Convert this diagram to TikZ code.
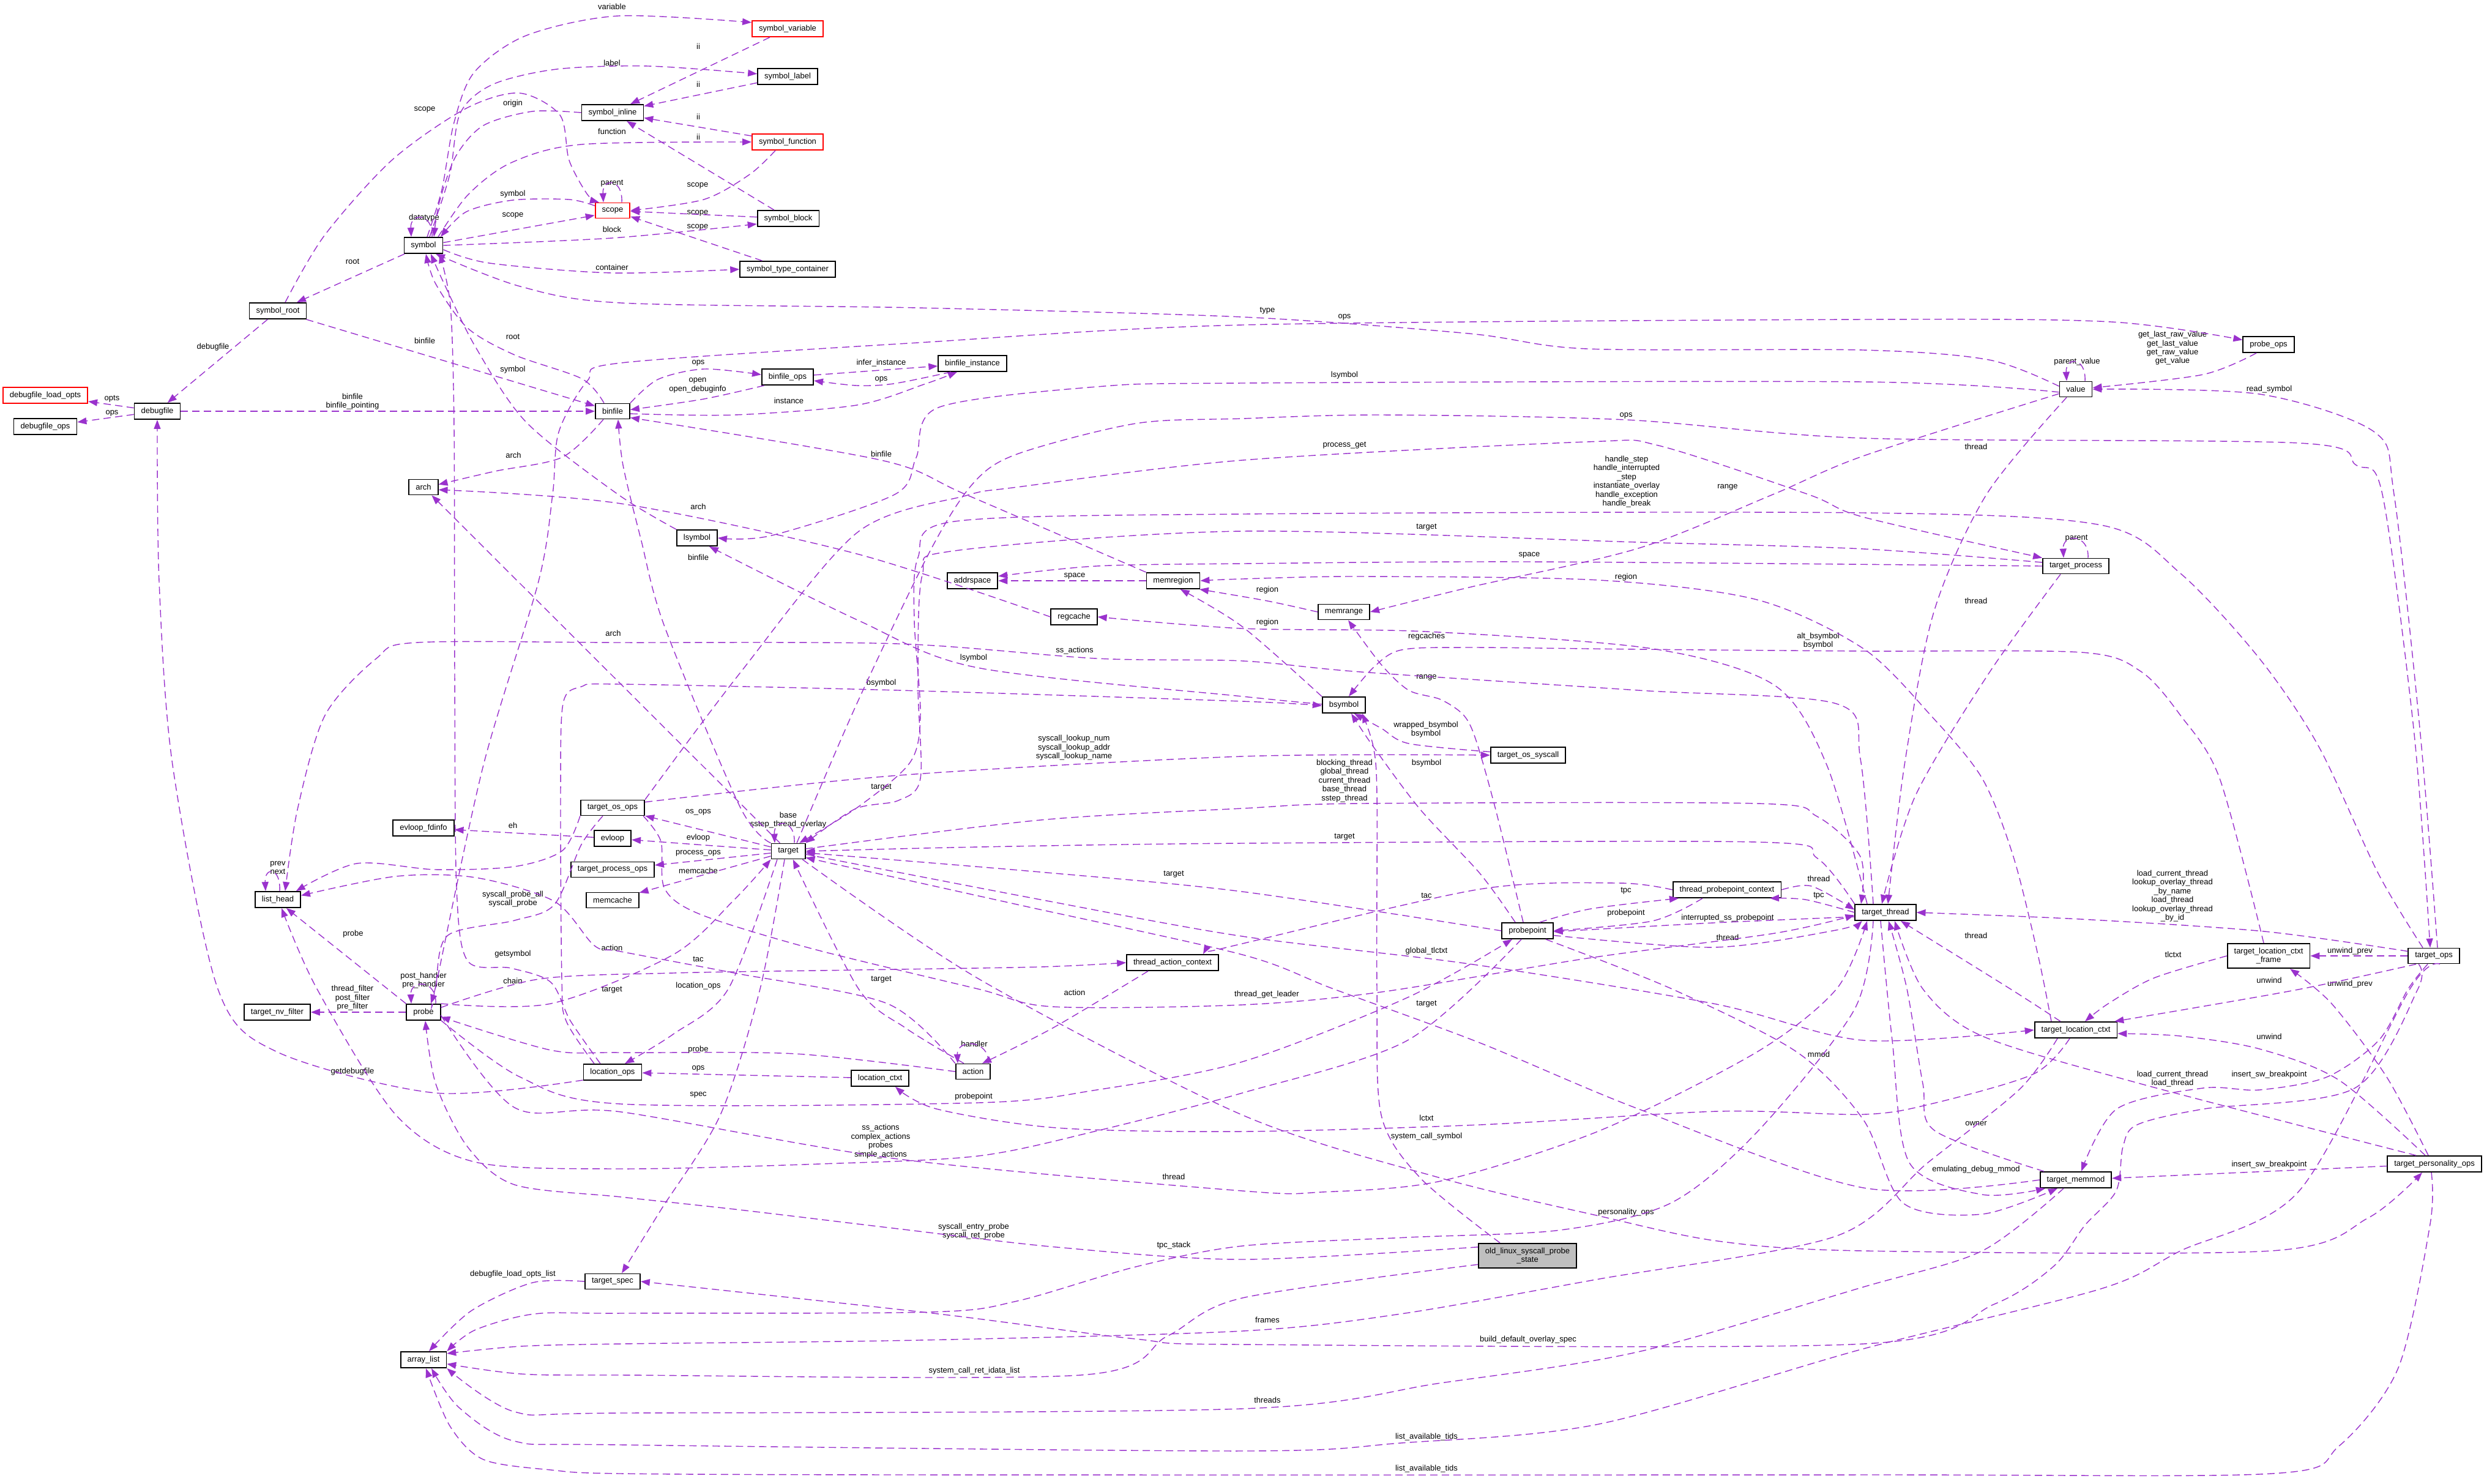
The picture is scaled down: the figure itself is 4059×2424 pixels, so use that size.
\documentclass[tikz,border=0pt]{standalone}
\usepackage{fontspec}
\setmainfont{Liberation Sans}
\usepackage{xcolor}
\usepackage{tikz}
\usetikzlibrary{arrows.meta}
\definecolor{edgepurple}{RGB}{154,50,205}
\definecolor{boxred}{RGB}{255,0,0}
\definecolor{rootgray}{RGB}{191,191,191}
\tikzset{
  cls/.style={draw=black, line width=0.5pt, fill=white, inner xsep=1.1mm, inner ysep=0.7mm,
    minimum height=2.5mm, align=center, font=\fontsize{3.7}{4.1}\selectfont},
  clsred/.style={cls, draw=boxred},
  clsroot/.style={cls, fill=rootgray},
  dep/.style={draw=edgepurple, line width=0.4pt, dash pattern=on 1.2mm off 0.7mm,
    -{Triangle[length=1.5mm,width=1.1mm]}},
  lbl/.style={inner sep=0pt, align=center, font=\fontsize{3.7}{4.1}\selectfont},
}

\begin{document}
\begin{tikzpicture}[x=0.1mm, y=-0.1mm]
  \useasboundingbox (0,0) rectangle (4059,2424);

  % Classes
  \node[cls] (symbol) at (692,401) {symbol};
  \node[cls] (symroot) at (454,508) {symbol\_root};
  \node[cls] (debugfile) at (257,672) {debugfile};
  \node[clsred] (dlopts) at (74,646) {debugfile\_load\_opts};
  \node[cls] (dfops) at (74,697) {debugfile\_ops};
  \node[cls] (binfile) at (1001,672) {binfile};
  \node[clsred] (scope) at (1001,344) {scope};
  \node[cls] (syminline) at (1001,184) {symbol\_inline};
  \node[cls] (arch) at (692,796) {arch};
  \node[clsred] (symvar) at (1287,47) {symbol\_variable};
  \node[cls] (symlabel) at (1287,125) {symbol\_label};
  \node[clsred] (symfunc) at (1287,232) {symbol\_function};
  \node[cls] (symblock) at (1288,357) {symbol\_block};
  \node[cls] (symtc) at (1287,440) {symbol\_type\_container};
  \node[cls] (bfops) at (1287,616) {binfile\_ops};
  \node[cls] (bfinst) at (1589,594) {binfile\_instance};
  \node[cls] (probeops) at (3707,563) {probe\_ops};
  \node[cls] (value) at (3392,636) {value};
  \node[cls] (lsymbol) at (1139,879) {lsymbol};
  \node[cls] (addrspace) at (1589,949) {addrspace};
  \node[cls] (memregion) at (1917,949) {memregion};
  \node[cls] (regcache) at (1755,1008) {regcache};
  \node[cls] (memrange) at (2196,1000) {memrange};
  \node[cls] (bsymbol) at (2196,1152) {bsymbol};
  \node[cls] (tossys) at (2497,1234) {target\_os\_syscall};
  \node[cls] (tprocess) at (3392,925) {target\_process};
  \node[cls] (target) at (1288,1391) {target};
  \node[cls] (tosops) at (1001,1320) {target\_os\_ops};
  \node[cls] (evloop) at (1001,1370) {evloop};
  \node[cls] (tpops) at (1001,1421) {target\_process\_ops};
  \node[cls] (memcache) at (1001,1471) {memcache};
  \node[cls] (evfd) at (692,1353) {evloop\_fdinfo};
  \node[cls] (listhead) at (454,1470) {list\_head};
  \node[cls] (tac) at (1916,1573) {thread\_action\_context};
  \node[cls] (tpc) at (2822,1454) {thread\_probepoint\_context};
  \node[cls] (probepoint) at (2496,1521) {probepoint};
  \node[cls] (tthread) at (3081,1491) {target\_thread};
  \node[cls] (tlcf) at (3707,1562) {target\_location\_ctxt\\\_frame};
  \node[cls] (tops) at (3977,1562) {target\_ops};
  \node[cls] (tlc) at (3392,1683) {target\_location\_ctxt};
  \node[cls] (tmemmod) at (3392,1928) {target\_memmod};
  \node[cls] (tpers) at (3978,1902) {target\_personality\_ops};
  \node[clsroot] (olsps) at (2496,2052) {old\_linux\_syscall\_probe\\\_state};
  \node[cls] (tnvf) at (453,1654) {target\_nv\_filter};
  \node[cls] (probe) at (692,1654) {probe};
  \node[cls] (locops) at (1001,1752) {location\_ops};
  \node[cls] (action) at (1590,1751) {action};
  \node[cls] (locctxt) at (1438,1762) {location\_ctxt};
  \node[cls] (tspec) at (1001,2094) {target\_spec};
  \node[cls] (alist) at (692,2222) {array\_list};

  % Member labels
  \node[lbl] (l01) at (1000,11) {variable};
  \node[lbl] (l02) at (1000,103) {label};
  \node[lbl] (l03) at (694,179) {scope};
  \node[lbl] (l04) at (838,169) {origin};
  \node[lbl] (l05) at (1000,215) {function};
  \node[lbl] (l06) at (1000,300) {parent};
  \node[lbl] (l07) at (838,317) {symbol};
  \node[lbl] (l08) at (838,352) {scope};
  \node[lbl] (l09) at (693,356) {datatype};
  \node[lbl] (l10) at (1000,375) {block};
  \node[lbl] (l11) at (576,427) {root};
  \node[lbl] (l12) at (1000,437) {container};
  \node[lbl] (l13) at (838,550) {root};
  \node[lbl] (l14) at (694,557) {binfile};
  \node[lbl] (l15) at (838,604) {symbol};
  \node[lbl] (l16) at (348,567) {debugfile};
  \node[lbl] (l17) at (183,652) {opts};
  \node[lbl] (l18) at (183,675) {ops};
  \node[lbl] (l19) at (576,656) {binfile\\binfile\_pointing};
  \node[lbl] (l20) at (839,744) {arch};
  \node[lbl] (l21) at (1141,76) {ii};
  \node[lbl] (l22) at (1141,138) {ii};
  \node[lbl] (l23) at (1141,191) {ii};
  \node[lbl] (l24) at (1141,224) {ii};
  \node[lbl] (l25) at (1140,303) {scope};
  \node[lbl] (l26) at (1140,348) {scope};
  \node[lbl] (l27) at (1140,371) {scope};
  \node[lbl] (l28) at (1141,593) {ops};
  \node[lbl] (l29) at (1140,630) {open\\open\_debuginfo};
  \node[lbl] (l30) at (1289,655) {instance};
  \node[lbl] (l31) at (1440,593) {infer\_instance};
  \node[lbl] (l32) at (1440,620) {ops};
  \node[lbl] (l33) at (1440,742) {binfile};
  \node[lbl] (l34) at (2071,508) {type};
  \node[lbl] (l35) at (2197,518) {ops};
  \node[lbl] (l36) at (2197,613) {lsymbol};
  \node[lbl] (l37) at (2657,679) {ops};
  \node[lbl] (l38) at (2197,728) {process\_get};
  \node[lbl] (l39) at (2658,787) {handle\_step\\handle\_interrupted\\\_step\\instantiate\_overlay\\handle\_exception\\handle\_break};
  \node[lbl] (l40) at (2823,796) {range};
  \node[lbl] (l41) at (3550,569) {get\_last\_raw\_value\\get\_last\_value\\get\_raw\_value\\get\_value};
  \node[lbl] (l42) at (3394,591) {parent\_value};
  \node[lbl] (l43) at (3708,636) {read\_symbol};
  \node[lbl] (l44) at (3229,730) {thread};
  \node[lbl] (l45) at (1002,1035) {arch};
  \node[lbl] (l46) at (838,1349) {eh};
  \node[lbl] (l47) at (454,1418) {prev\\next};
  \node[lbl] (l48) at (838,1469) {syscall\_probe\_all\\syscall\_probe};
  \node[lbl] (l49) at (577,1526) {probe};
  \node[lbl] (l50) at (838,1559) {getsymbol};
  \node[lbl] (l51) at (1000,1549) {action};
  \node[lbl] (l52) at (692,1602) {post\_handler\\pre\_handler};
  \node[lbl] (l53) at (838,1603) {chain};
  \node[lbl] (l54) at (1000,1618) {target};
  \node[lbl] (l55) at (576,1631) {thread\_filter\\post\_filter\\pre\_filter};
  \node[lbl] (l56) at (576,1751) {getdebugfile};
  \node[lbl] (l57) at (838,2082) {debugfile\_load\_opts\_list};
  \node[lbl] (l58) at (1141,828) {arch};
  \node[lbl] (l59) at (1141,911) {binfile};
  \node[lbl] (l60) at (1756,941) {space};
  \node[lbl] (l61) at (1756,1063) {ss\_actions};
  \node[lbl] (l62) at (1591,1075) {lsymbol};
  \node[lbl] (l63) at (1440,1116) {bsymbol};
  \node[lbl] (l64) at (1755,1222) {syscall\_lookup\_num\\syscall\_lookup\_addr\\syscall\_lookup\_name};
  \node[lbl] (l65) at (1440,1287) {target};
  \node[lbl] (l66) at (1141,1327) {os\_ops};
  \node[lbl] (l67) at (1288,1340) {base\\sstep\_thread\_overlay};
  \node[lbl] (l68) at (1141,1369) {evloop};
  \node[lbl] (l69) at (1141,1394) {process\_ops};
  \node[lbl] (l70) at (1141,1423) {memcache};
  \node[lbl] (l71) at (1918,1429) {target};
  \node[lbl] (l72) at (1141,1567) {tac};
  \node[lbl] (l73) at (1440,1601) {target};
  \node[lbl] (l74) at (1141,1611) {location\_ops};
  \node[lbl] (l75) at (2331,862) {target};
  \node[lbl] (l76) at (2499,907) {space};
  \node[lbl] (l77) at (2657,943) {region};
  \node[lbl] (l78) at (2071,964) {region};
  \node[lbl] (l79) at (2071,1017) {region};
  \node[lbl] (l80) at (2331,1040) {regcaches};
  \node[lbl] (l81) at (2971,1047) {alt\_bsymbol\\bsymbol};
  \node[lbl] (l82) at (2331,1107) {range};
  \node[lbl] (l83) at (2330,1192) {wrapped\_bsymbol\\bsymbol};
  \node[lbl] (l84) at (2331,1247) {bsymbol};
  \node[lbl] (l85) at (2197,1276) {blocking\_thread\\global\_thread\\current\_thread\\base\_thread\\sstep\_thread};
  \node[lbl] (l86) at (2197,1368) {target};
  \node[lbl] (l87) at (2972,1436) {thread};
  \node[lbl] (l88) at (2657,1456) {tpc};
  \node[lbl] (l89) at (2972,1464) {tpc};
  \node[lbl] (l90) at (2331,1463) {tac};
  \node[lbl] (l91) at (2657,1492) {probepoint};
  \node[lbl] (l92) at (2823,1500) {interrupted\_ss\_probepoint};
  \node[lbl] (l93) at (2823,1532) {thread};
  \node[lbl] (l94) at (2331,1554) {global\_tlctxt};
  \node[lbl] (l95) at (3393,880) {parent};
  \node[lbl] (l96) at (3229,982) {thread};
  \node[lbl] (l97) at (3550,1464) {load\_current\_thread\\lookup\_overlay\_thread\\\_by\_name\\load\_thread\\lookup\_overlay\_thread\\\_by\_id};
  \node[lbl] (l98) at (3229,1529) {thread};
  \node[lbl] (l99) at (3840,1554) {unwind\_prev};
  \node[lbl] (l100) at (3551,1560) {tlctxt};
  \node[lbl] (l101) at (3708,1602) {unwind};
  \node[lbl] (l102) at (3840,1608) {unwind\_prev};
  \node[lbl] (l103) at (1756,1622) {action};
  \node[lbl] (l104) at (1592,1706) {handler};
  \node[lbl] (l105) at (1141,1715) {probe};
  \node[lbl] (l106) at (1141,1746) {ops};
  \node[lbl] (l107) at (1141,1789) {spec};
  \node[lbl] (l108) at (1591,1792) {probepoint};
  \node[lbl] (l109) at (1439,1865) {ss\_actions\\complex\_actions\\probes\\simple\_actions};
  \node[lbl] (l110) at (1918,1923) {thread};
  \node[lbl] (l111) at (1591,2012) {syscall\_entry\_probe\\syscall\_ret\_probe};
  \node[lbl] (l112) at (1918,2035) {tpc\_stack};
  \node[lbl] (l113) at (1592,2240) {system\_call\_ret\_idata\_list};
  \node[lbl] (l114) at (2070,1625) {thread\_get\_leader};
  \node[lbl] (l115) at (2331,1641) {target};
  \node[lbl] (l116) at (2972,1723) {mmod};
  \node[lbl] (l117) at (2331,1827) {lctxt};
  \node[lbl] (l118) at (2331,1857) {system\_call\_symbol};
  \node[lbl] (l119) at (2657,1981) {personality\_ops};
  \node[lbl] (l120) at (2071,2157) {frames};
  \node[lbl] (l121) at (2497,2189) {build\_default\_overlay\_spec};
  \node[lbl] (l122) at (2071,2288) {threads};
  \node[lbl] (l123) at (2331,2348) {list\_available\_tids};
  \node[lbl] (l124) at (2331,2400) {list\_available\_tids};
  \node[lbl] (l125) at (3708,1694) {unwind};
  \node[lbl] (l126) at (3550,1763) {load\_current\_thread\\load\_thread};
  \node[lbl] (l127) at (3708,1756) {insert\_sw\_breakpoint};
  \node[lbl] (l128) at (3229,1836) {owner};
  \node[lbl] (l129) at (3229,1911) {emulating\_debug\_mmod};
  \node[lbl] (l130) at (3708,1903) {insert\_sw\_breakpoint};

  % Symbol and debug file links
  \draw[dep] (debugfile) -- (dlopts);
  \draw[dep] (debugfile) -- (dfops);
  \draw[dep] (symroot) -- (debugfile);
  \draw[dep] plot[smooth] coordinates {(locops.195) (712,1786) (453,1719) (356,1616) (282,1250) (260,950) (debugfile.south)};
  \draw[dep] (debugfile) -- (binfile);
  \draw[dep] (symbol) -- (symroot);
  \draw[dep] (symroot) -- (binfile);
  \draw[dep] plot[smooth] coordinates {([xshift=1.2mm]symroot.north) (530,385) (640,262) (760,178) (848,152) (915,188) (930,262) (960,318) ([xshift=-2.2mm]scope.north)};
  \draw[dep] ([xshift=1.4mm]symbol.north) .. controls +(2,-40) and +(-2,-40) .. ([xshift=-2mm]symbol.north);
  \draw[dep] plot[smooth] coordinates {(syminline.west) (870,182) (790,205) (745,255) (718,330) ([xshift=1.7mm]symbol.north)};
  \draw[dep] plot[smooth] coordinates {([xshift=0.6mm]symbol.north) (722,310) (742,200) (775,118) (860,58) (1010,26) (symvar.170)};
  \draw[dep] plot[smooth] coordinates {([xshift=1mm]symbol.north) (735,285) (752,185) (805,138) (910,113) (1060,108) (symlabel.175)};
  \draw[dep] plot[smooth] coordinates {([xshift=2.4mm]symbol.north) (765,318) (835,266) (950,236) (symfunc.west)};
  \draw[dep] (symbol.8) -- (scope.195);
  \draw[dep] plot[smooth] coordinates {(scope.165) (930,326) (838,327) (762,346) ([xshift=2.8mm]symbol.north)};
  \draw[dep] plot[smooth] coordinates {(symbol.east) (1000,389) (symblock.190)};
  \draw[dep] plot[smooth] coordinates {(symbol.-12) (800,430) (1000,446) (symtc.west)};
  \draw[dep] ([xshift=1.5mm]scope.north) .. controls +(2,-40) and +(-2,-40) .. ([xshift=-1.5mm]scope.north);
  \draw[dep] (symvar) -- (syminline);
  \draw[dep] (symlabel) -- (syminline);
  \draw[dep] (symfunc) -- (syminline);
  \draw[dep] (symblock) -- (syminline);
  \draw[dep] plot[smooth] coordinates {([xshift=-2mm]symfunc.south) (1225,285) (1150,326) (scope.east)};
  \draw[dep] (symblock) -- (scope);
  \draw[dep] (symtc) -- (scope);
  \draw[dep] plot[smooth] coordinates {(value.170) (3250,588) (3045,572) (2594,570) (2400,545) (2030,518) (1500,503) (1015,495) (850,468) ([xshift=2mm]symbol.south)};
  \draw[dep] plot[smooth] coordinates {([xshift=-1.4mm]binfile.north) (951,619) (841,580) (764,536) (712,464) ([xshift=0.4mm]symbol.south)};
  \draw[dep] plot[smooth] coordinates {(lsymbol.north west) (1010,808) (860,690) (777,567) (725,462) ([xshift=1.2mm]symbol.south)};
  \draw[dep] plot[smooth] coordinates {([xshift=-2mm]locops.north) (932,1668) (900,1605) (835,1582) (764,1570) (746,1450) (743,1100) (742,700) (736,500) ([xshift=2.6mm]symbol.south)};

  % Binary file links
  \draw[dep] plot[smooth] coordinates {([xshift=-1.5mm]binfile.south) (919,747) (809,770) (arch.10)};
  \draw[dep] plot[smooth] coordinates {(regcache.west) (1400,905) (1015,823) (arch.-10)};
  \draw[dep] (target) -- (arch);
  \draw[dep] plot[smooth] coordinates {(binfile.north east) (1075,620) (1150,603) (bfops.175)};
  \draw[dep] plot[smooth] coordinates {(bfops.-160) (1150,652) (binfile.5)};
  \draw[dep] (bfops) -- (bfinst);
  \draw[dep] plot[smooth] coordinates {([xshift=-3.5mm]bfinst.south) (1460,627) (1400,630) (bfops.-8)};
  \draw[dep] plot[smooth] coordinates {(binfile.-8) (1200,678) (1400,662) (1510,628) ([xshift=-2.5mm]bfinst.south)};
  \draw[dep] plot[smooth] coordinates {(memregion.north west) (1578,808) (1440,752) (binfile.-20)};
  \draw[dep] plot[smooth] coordinates {(target.north west) (1209,1318) (1086,1024) (1047,880) (1018,760) ([xshift=0.9mm]binfile.south)};
  \draw[dep] plot[smooth] coordinates {(value.190) (3045,624) (2030,626) (1792,632) (1533,666) (1497,748) (1462,808) (1261,875) (lsymbol.east)};

  % Probe and target ops
  \draw[dep] plot[smooth] coordinates {([xshift=1.5mm]probe.north) (712,1612) (790,1250) (880,950) (903,808) (913,706) (960,622) (1015,593) (1500,560) (2030,531) (3045,522) (3450,526) (probeops.170)};
  \draw[dep] plot[smooth] coordinates {([xshift=1.4mm]target.north) (1400,1150) (1520,900) (1590,790) (1662,742) (1856,692) (2030,684) (2257,678) (2657,686) (3045,716) (3757,724) (3850,760) (3893,808) (3945,1200) ([xshift=-0.6mm]tops.north)};
  \draw[dep] plot[smooth] coordinates {([xshift=0.6mm]tops.north) (3955,1200) (3912,808) (3880,706) (3692,644) (value.east)};
  \draw[dep] ([xshift=1.5mm]value.north) .. controls +(2,-40) and +(-2,-40) .. ([xshift=-1.5mm]value.north);
  \draw[dep] plot[smooth] coordinates {([xshift=-2mm]probeops.south) (3600,612) (value.5)};
  \draw[dep] plot[smooth] coordinates {([xshift=-1.5mm]value.south) (3246,808) (3160,1000) (3112,1250) ([xshift=0.4mm]tthread.north)};
  \draw[dep] plot[smooth] coordinates {([xshift=-2.5mm]tprocess.south) (3250,1100) (3130,1300) ([xshift=-0.6mm]tthread.north)};
  \draw[dep] ([xshift=2mm]tprocess.north) .. controls +(2,-40) and +(-2,-40) .. ([xshift=-2mm]tprocess.north);
  \draw[dep] plot[smooth] coordinates {(tops.170) (3700,1522) (3400,1502) (tthread.east)};
  \draw[dep] (tops) -- (tlcf);
  \draw[dep] plot[smooth] coordinates {([xshift=-1mm]tpers.north) (3900,1760) (3810,1640) ([xshift=3.5mm]tlcf.south)};
  \draw[dep] plot[smooth] coordinates {(tlcf.west) (3520,1598) (3445,1640) ([xshift=1.5mm]tlc.north)};
  \draw[dep] plot[smooth] coordinates {(tops.-155) (3750,1618) ([xshift=-0.5mm]tlc.north east)};
  \draw[dep] plot[smooth] coordinates {([xshift=-1.5mm]tpers.north) (3822,1765) (3692,1714) (3563,1693) (tlc.-5)};
  \draw[dep] plot[smooth] coordinates {([xshift=-1mm]tops.south) (3935,1616) (3887,1700) (3802,1760) (3692,1781) (3600,1778) (3459,1812) ([xshift=0.9mm]tmemmod.north)};
  \draw[dep] (tpers) -- (tmemmod);
  \draw[dep] plot[smooth] coordinates {([xshift=-2.5mm]tlc.north) (3285,1616) ([xshift=2.5mm]tthread.south)};
  \draw[dep] plot[smooth] coordinates {(tpers.155) (3498,1771) (3239,1693) (3142,1616) ([xshift=1.5mm]tthread.south)};
  \draw[dep] plot[smooth] coordinates {(tmemmod.165) (3162,1848) (3142,1771) (3116,1616) ([xshift=0.5mm]tthread.south)};
  \draw[dep] plot[smooth] coordinates {([xshift=-0.8mm]tthread.south) (3092,1700) (3120,1900) (3239,1952) ([xshift=-5mm]tmemmod.south)};
  \draw[dep] plot[smooth] coordinates {(probepoint.-25) (2732,1616) (2936,1719) (3045,1830) (3110,1966) (3239,1984) ([xshift=-3mm]tmemmod.south)};

  % Threads, regions and symbols
  \draw[dep] plot[smooth] coordinates {([xshift=-3mm]tthread.north) (2985,1250) (2900,1120) (2700,1060) (2330,1032) (2030,1027) (regcache.east)};
  \draw[dep] plot[smooth] coordinates {([xshift=-0.8mm]tlcf.north) (3627,1272) (3563,1169) (3498,1097) (3401,1066) (3045,1064) (2677,1061) (2400,1058) (2290,1062) (2245,1090) ([xshift=0.8mm]bsymbol.north)};
  \draw[dep] plot[smooth] coordinates {([xshift=-2mm]tthread.north) (3040,1240) (3001,1150) (2677,1128) (2224,1098) (2030,1080) (1792,1076) (1468,1052) (1015,1050) (680,1050) (615,1076) (531,1169) (486,1323) ([xshift=1.2mm]listhead.north)};
  \draw[dep] plot[smooth] coordinates {([xshift=-4mm]tlc.north) (3330,1560) (3290,1400) (3239,1272) (3155,1169) (3045,1060) (2871,980) (2613,948) (2224,942) (2030,946) (memregion.east)};
  \draw[dep] plot[smooth] coordinates {(memrange.west) (2071,982) (memregion.-18)};
  \draw[dep] plot[smooth] coordinates {(bsymbol.north west) (2030,1024) (memregion.-50)};
  \draw[dep] (memregion) -- (addrspace);
  \draw[dep] plot[smooth] coordinates {(tprocess.west) (2499,918) (2030,921) (1792,925) (addrspace.10)};
  \draw[dep] plot[smooth] coordinates {([yshift=0.6mm]tprocess.west) (3045,897) (2677,886) (2030,868) (1560,900) (1507,940) (1500,1117) (1504,1272) (1468,1308) (1397,1322) (target.north east)};
  \draw[dep] plot[smooth] coordinates {([xshift=-1.8mm]tops.north) (3886,1427) (3789,1220) (3692,1076) (3563,937) (3433,858) (3045,838) (2030,840) (1560,852) (1500,911) (1494,1014) (1504,1169) (1487,1246) (1403,1318) ([xshift=1.8mm]target.north)};
  \draw[dep] plot[smooth] coordinates {(tosops.north east) (1209,1100) (1401,870) (1578,810) (1662,796) (2030,752) (2593,722) (2710,728) (2955,808) (3045,845) (tprocess.north west)};
  \draw[dep] plot[smooth] coordinates {(value.-165) (3045,745) (2897,808) (2677,896) (2400,960) (memrange.east)};
  \draw[dep] plot[smooth] coordinates {(target.8) (1700,1340) (2030,1321) (2224,1313) (2871,1313) (2969,1334) (3040,1400) ([xshift=-4mm]tthread.north)};
  \draw[dep] plot[smooth] coordinates {(tthread.north west) (2969,1402) (2871,1376) (2030,1378) (1600,1384) (target.east)};
  \draw[dep] plot[smooth] coordinates {(probepoint.west) (2030,1457) (1700,1425) (target.-5)};
  \draw[dep] plot[smooth] coordinates {(tpc.west) (2645,1443) (2418,1453) (2030,1542) ([xshift=5mm]tac.north)};
  \draw[dep] plot[smooth] coordinates {([xshift=2mm]probepoint.north) (2600,1485) (tpc.-170)};
  \draw[dep] plot[smooth] coordinates {([xshift=-4mm]tpc.south) (2700,1505) (probepoint.east)};
  \draw[dep] plot[smooth] coordinates {(tpc.east) (2960,1448) (tthread.175)};
  \draw[dep] plot[smooth] coordinates {(tthread.west) (2950,1470) ([xshift=7mm]tpc.south)};
  \draw[dep] plot[smooth] coordinates {(tthread.-172) (2800,1508) (probepoint.-2)};
  \draw[dep] plot[smooth] coordinates {(probepoint.-10) (2800,1548) (3000,1520) (tthread.-160)};
  \draw[dep] plot[smooth] coordinates {(target.-10) (1700,1470) (2030,1530) (2400,1575) (2800,1640) (3045,1700) (tlc.west)};
  \draw[dep] plot[smooth] coordinates {(tosops.10) (1468,1267) (2030,1236) (tossys.west)};
  \draw[dep] plot[smooth] coordinates {(tossys.175) (2302,1215) (2257,1190) (bsymbol.-40)};
  \draw[dep] plot[smooth] coordinates {([xshift=-2mm]probepoint.north) (2418,1427) (2321,1323) (2244,1220) ([xshift=1.2mm]bsymbol.south)};
  \draw[dep] plot[smooth] coordinates {([xshift=-0.7mm]probepoint.north) (2444,1323) (2412,1210) (2392,1169) (2354,1143) (2302,1128) (2257,1086) ([xshift=0.7mm]memrange.south)};
  \draw[dep] plot[smooth] coordinates {(bsymbol.178) (2030,1138) (1597,1091) (1403,1014) (lsymbol.-35)};
  \draw[dep] plot[smooth] coordinates {([xshift=-3mm]locops.north) (925,1668) (918,1600) (916,1300) (920,1150) (950,1122) (1015,1118) (1468,1128) (2030,1146) (bsymbol.182)};
  \draw[dep] plot[smooth] coordinates {([xshift=-4.5mm]olsps.north) (2321,1925) (2257,1822) (2250,1616) (2250,1300) (2244,1220) ([xshift=3mm]bsymbol.south)};

  % Target members on the left
  \draw[dep] (target) -- (tosops);
  \draw[dep] (target) -- (evloop);
  \draw[dep] (target) -- (tpops);
  \draw[dep] (target) -- (memcache);
  \draw[dep] (evloop) -- (evfd);
  \draw[dep] ([xshift=1mm]target.north) .. controls +(2,-40) and +(-2,-40) .. ([xshift=-2.2mm]target.north);
  \draw[dep] plot[smooth] coordinates {([xshift=-0.6mm]target.south) (1242,1616) (1177,1822) (1080,1977) ([xshift=1.5mm]tspec.north)};
  \draw[dep] plot[smooth] coordinates {([xshift=-1.8mm]target.south) (1190,1616) (1100,1690) ([xshift=2mm]locops.north)};
  \draw[dep] plot[smooth] coordinates {(tspec.west) (870,2096) (770,2142) ([xshift=0.9mm]alist.north)};

  % Probes, actions and lists
  \draw[dep] (probe) -- (tnvf);
  \draw[dep] (probe.north west) -- (listhead.-45);
  \draw[dep] ([xshift=2mm]probe.north) .. controls +(2,-40) and +(-2,-40) .. ([xshift=-2mm]probe.north);
  \draw[dep] ([xshift=0.3mm]listhead.north) .. controls +(2,-40) and +(-2,-40) .. ([xshift=-2mm]listhead.north);
  \draw[dep] ([xshift=2.5mm]action.north) .. controls +(2,-40) and +(-2,-40) .. ([xshift=-2.5mm]action.north);
  \draw[dep] plot[smooth] coordinates {(action.north west) (1450,1640) (1200,1590) (1015,1555) (971,1545) (906,1473) (777,1434) (647,1432) (listhead.10)};
  \draw[dep] plot[smooth] coordinates {(tosops.south west) (919,1390) (841,1416) (712,1421) (583,1411) (listhead.25)};
  \draw[dep] plot[smooth] coordinates {(tosops.-140) (950,1380) (906,1478) (841,1504) (731,1529) (712,1612) ([xshift=1.2mm]probe.north)};
  \draw[dep] plot[smooth] coordinates {(tosops.-15) (1080,1375) (1086,1452) (1144,1494) (1326,1550) (1598,1616) (1720,1645) (2030,1642) (2257,1621) (2600,1565) (2900,1525) (tthread.-175)};
  \draw[dep] plot[smooth] coordinates {(probe.north east) (900,1640) (1100,1560) (1200,1470) (target.south west)};
  \draw[dep] plot[smooth] coordinates {(probe.15) (880,1600) (1100,1590) (1400,1585) (1700,1580) (tac.west)};
  \draw[dep] plot[smooth] coordinates {([xshift=-1.5mm]action.north) (1480,1680) (1403,1616) (target.-60)};
  \draw[dep] plot[smooth] coordinates {([xshift=-4mm]tac.south) (1720,1680) ([xshift=1.5mm]action.north)};
  \draw[dep] plot[smooth] coordinates {(action.west) (1300,1722) (1015,1720) (900,1716) (probe.-15)};
  \draw[dep] (locctxt) -- (locops);
  \draw[dep] plot[smooth] coordinates {(probe.-25) (850,1760) (1015,1804) (1598,1802) (1792,1781) (2030,1735) (2300,1630) ([xshift=-2.5mm]probepoint.south)};
  \draw[dep] plot[smooth] coordinates {([xshift=-1mm]probepoint.south) (2300,1700) (2030,1786) (1792,1848) (1598,1889) (1339,1902) (1015,1910) (777,1899) (647,1822) (518,1616) ([xshift=0.6mm]listhead.south)};
  \draw[dep] plot[smooth] coordinates {(probe.-10) (841,1810) (1015,1817) (1468,1894) (2030,1946) (2159,1948) (2354,1930) (2613,1848) (2871,1719) (3001,1616) ([xshift=-3mm]tthread.south)};

  % Old linux syscall probe state and array lists
  \draw[dep] plot[smooth] coordinates {(olsps.170) (2030,2058) (1727,2038) (1468,2008) (1209,1977) (1015,1956) (841,1936) (764,1874) (712,1771) ([xshift=0.3mm]probe.south)};
  \draw[dep] plot[smooth] coordinates {(olsps.190) (2030,2121) (1908,2183) (1766,2247) (1015,2247) (850,2245) (alist.-10)};
  \draw[dep] plot[smooth] coordinates {([xshift=-2mm]tthread.south) (3030,1650) (2871,1850) (2730,1966) (2550,2010) (2300,2022) (2030,2036) (1856,2070) (1662,2126) (1520,2144) (1015,2146) (874,2147) (777,2173) (alist.north east)};
  \draw[dep] plot[smooth] coordinates {([xshift=-1mm]tlc.south) (3323,1755) (3155,1804) (3045,1821) (2807,1816) (2418,1838) (2030,1849) (1727,1843) (1530,1812) ([xshift=2.5mm]locctxt.south)};
  \draw[dep] plot[smooth] coordinates {([xshift=-3mm]tlc.south) (3300,1780) (3150,1900) (3000,2020) (2613,2090) (2289,2147) (2030,2175) (1500,2190) (1015,2196) (850,2200) (alist.15)};
  \draw[dep] plot[smooth] coordinates {([xshift=-2.5mm]tops.south) (3951,1616) (3848,1778) (3602,1812) (3492,1838) (3469,1874) (3458,1946) (3407,2002) (3356,2069) (3259,2131) (3045,2196) (2030,2197) (1856,2188) (1533,2147) (tspec.east)};
  \draw[dep] plot[smooth] coordinates {([xshift=1mm]tops.south) (3938,1616) (3757,1946) (3563,2044) (3433,2106) (3045,2204) (2613,2327) (2289,2358) (2030,2371) (1015,2361) (841,2355) (750,2300) ([xshift=1.3mm]alist.south)};
  \draw[dep] plot[smooth] coordinates {([xshift=-0.5mm]tpers.south) (3971,2000) (3919,2235) (3822,2363) (3712,2408) (3045,2410) (1500,2410) (1015,2408) (900,2402) (790,2385) (735,2330) ([xshift=0.4mm]alist.south)};
  \draw[dep] plot[smooth] coordinates {([xshift=-2mm]tmemmod.south) (3239,2044) (3045,2103) (2677,2209) (2354,2260) (2030,2302) (1015,2309) (841,2307) (alist.-20)};
  \draw[dep] plot[smooth] coordinates {(target.-30) (1600,1600) (2030,1822) (2354,1925) (2613,1987) (2807,2028) (3045,2044) (3711,2044) (3870,1990) ([xshift=-2mm]tpers.south)};
  \draw[dep] plot[smooth] coordinates {(tmemmod.west) (3045,1941) (2677,1812) (2418,1704) (2179,1616) (2030,1560) (1662,1478) (target.-20)};
\end{tikzpicture}
\end{document}
